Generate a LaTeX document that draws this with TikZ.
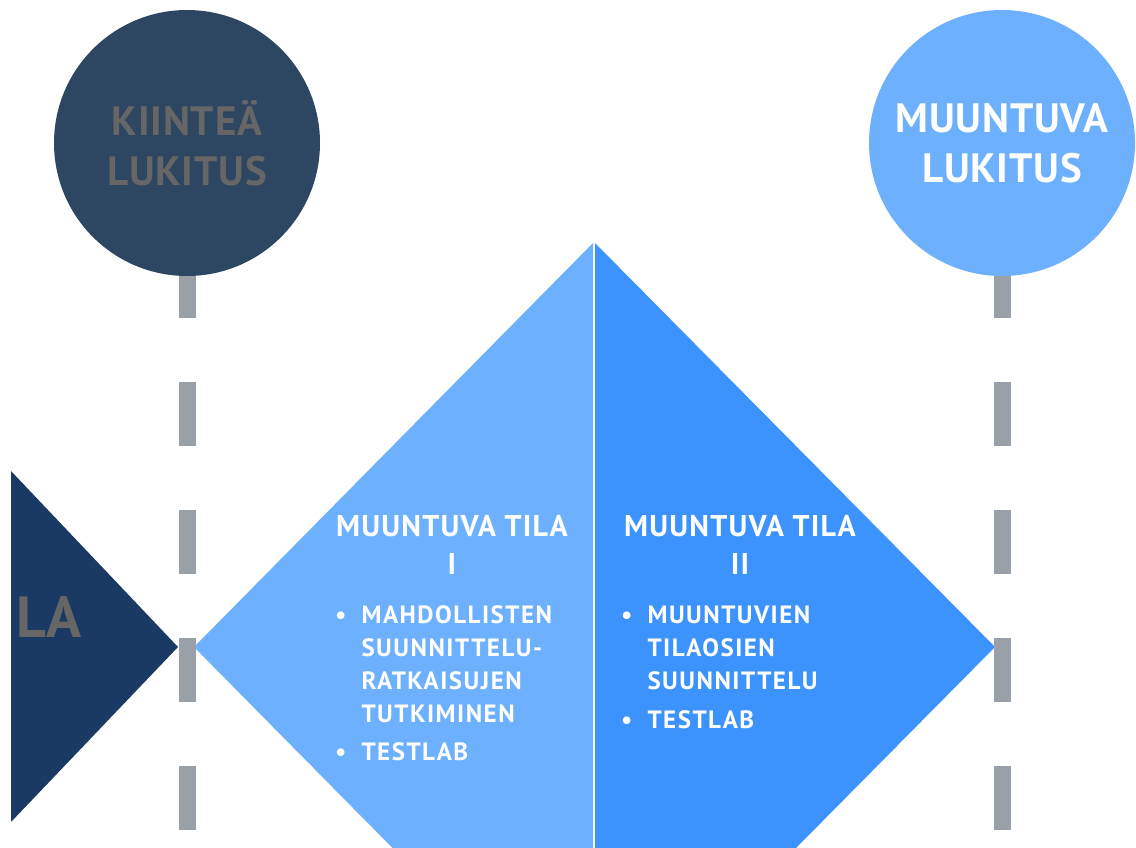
\documentclass[tikz,border=0pt]{standalone}
\usepackage{fontspec}
\setmainfont{PT Sans}
\usetikzlibrary{calc}
\definecolor{navy}{HTML}{1A3A63}
\definecolor{slate}{HTML}{2D4662}
\definecolor{skyblue}{HTML}{6DB1FE}
\definecolor{midblue}{HTML}{3D93FD}
\definecolor{dashgray}{HTML}{9AA0A8}
\definecolor{txtgray}{HTML}{666666}
\newcommand{\lockfont}{\fontsize{41}{50}\selectfont\bfseries\addfontfeature{LetterSpace=2}}
\newcommand{\tilafont}{\fontsize{30}{38}\selectfont\bfseries\addfontfeature{LetterSpace=4}}
\newcommand{\itemfont}{\fontsize{25}{33}\selectfont\bfseries\addfontfeature{LetterSpace=6}}

\begin{document}
\begin{tikzpicture}[x=1pt,y=-1pt,
  lock/.style={circle,minimum size=266pt,inner sep=0pt,font=\lockfont,align=center},
  guide/.style={dashgray,line width=17pt,dash pattern=on 64pt off 64pt},
  head/.style={text=white,font=\tilafont,align=center,anchor=base,inner sep=0pt},
  items/.style={text=white,font=\itemfont,anchor=north west,inner sep=0pt}]

 \useasboundingbox (0,0) rectangle (1136,847);
 \clip (0,0) rectangle (1136,847);

 % phases
 \fill[navy] (11,471) -- (178,647) -- (11,822) -- cycle;
 \fill[skyblue] (593,243) -- (194,647) -- (593,1051) -- cycle;
 \fill[midblue] (595,243) -- (995,647) -- (595,1051) -- cycle;
 \node[text=txtgray,font=\fontsize{58}{58}\selectfont\bfseries,anchor=base west,inner sep=0pt] (tila) at (16,637) {LA};

 % guide lines
 \coordinate (kstart) at (187,254);
 \coordinate (kend) at (187,900);
 \coordinate (mstart) at (1002,254);
 \coordinate (mend) at (1002,900);
 \draw[guide] (kstart) -- (kend);
 \draw[guide] (mstart) -- (mend);

 % locks
 \node[lock,fill=slate,text=txtgray] (kiintea) at (187,143) {KIINTEÄ\\LUKITUS};
 \node[lock,fill=skyblue,text=white] (muuntuva) at (1002,143) {MUUNTUVA\\LUKITUS};

 % texts
 \node[head] (tila1) at (452,574) {MUUNTUVA TILA\\I};
 \node[head] (tila2) at (740,574) {MUUNTUVA TILA\\II};
 \node[items] (tila1list) at (335,600) {\begin{tabular}{@{}l@{\hspace{15pt}}l@{}}
   \textbullet & MAHDOLLISTEN\\
   & SUUNNITTELU-\\
   & RATKAISUJEN\\
   & TUTKIMINEN\\[5pt]
   \textbullet & TESTLAB
 \end{tabular}};
 \node[items] (tila2list) at (621,600) {\begin{tabular}{@{}l@{\hspace{15pt}}l@{}}
   \textbullet & MUUNTUVIEN\\
   & TILAOSIEN\\
   & SUUNNITTELU\\[6pt]
   \textbullet & TESTLAB
 \end{tabular}};

\end{tikzpicture}
\end{document}
